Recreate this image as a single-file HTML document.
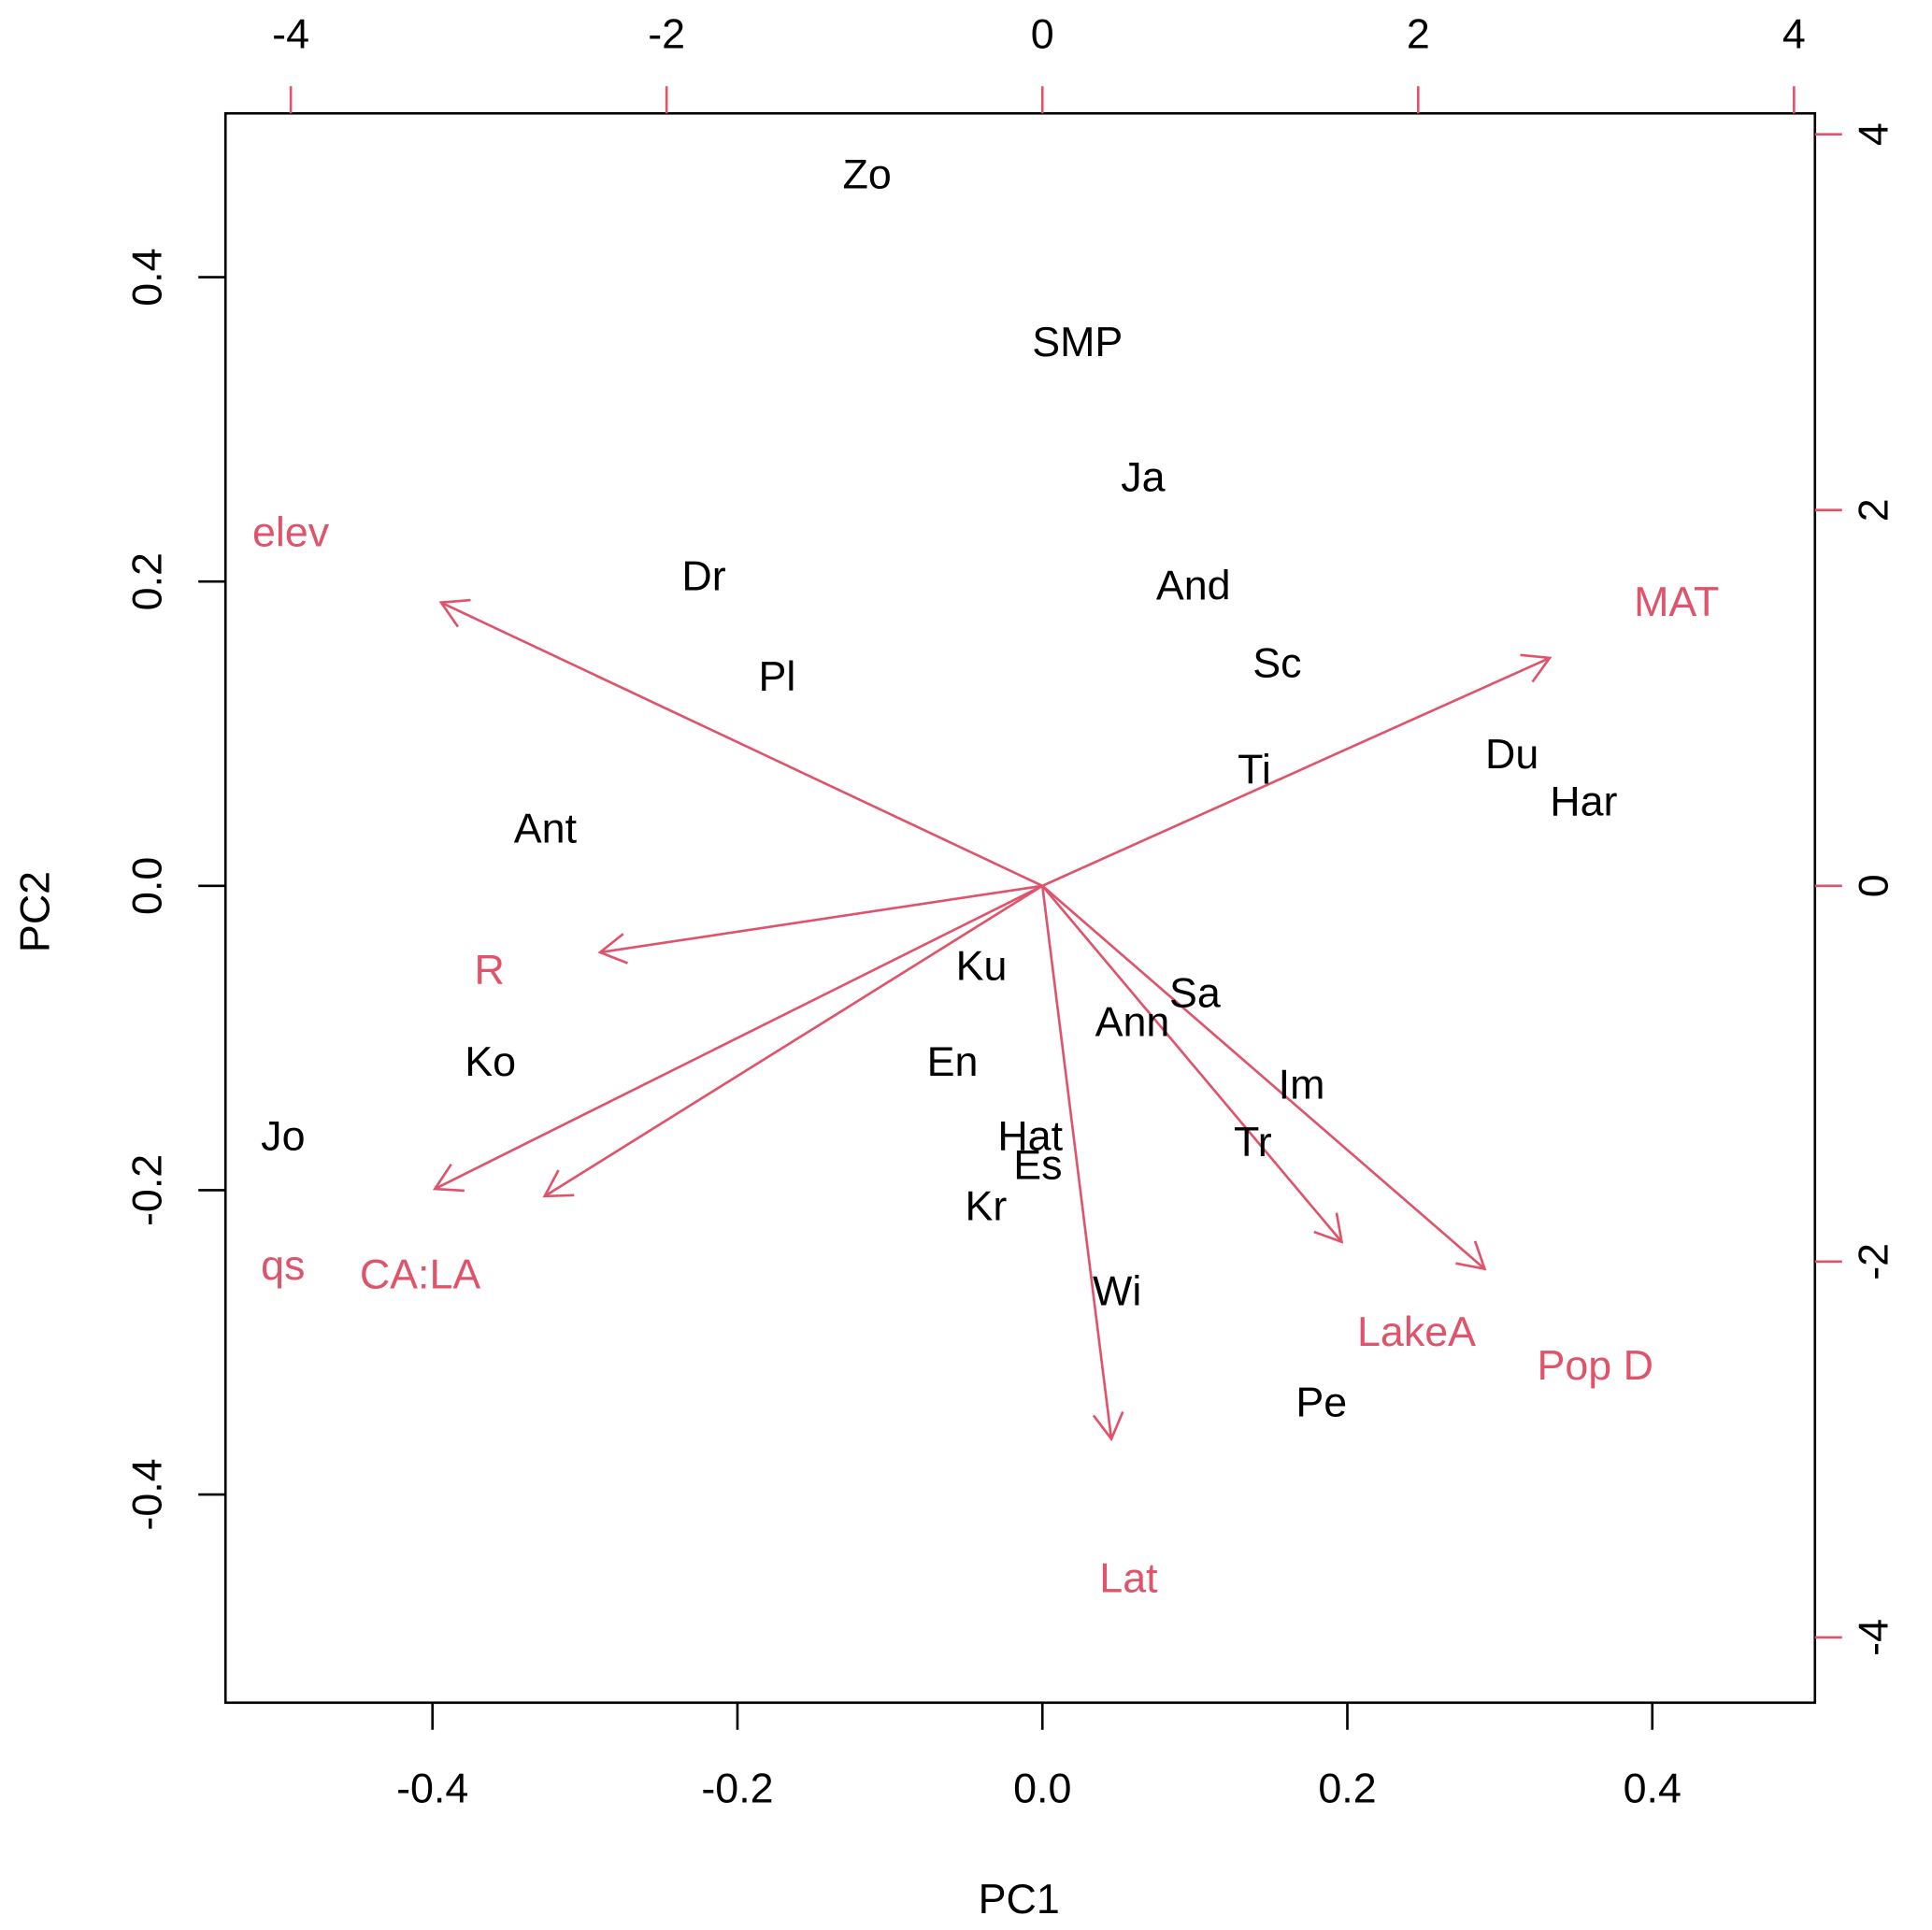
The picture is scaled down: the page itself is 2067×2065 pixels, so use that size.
<!DOCTYPE html>
<html><head><meta charset="utf-8"><style>
html,body{margin:0;padding:0;background:#fff}
svg{display:block}
text{font-family:"Liberation Sans",Arial,sans-serif}
</style></head><body>
<svg id="chart" width="2067" height="2065" viewBox="0 0 1568 1566.5" preserveAspectRatio="none" xmlns="http://www.w3.org/2000/svg">
<rect x="183" y="92" width="1290" height="1290" fill="none" stroke="#000" stroke-width="2"/>
<text x="827" y="1553" font-size="34" text-anchor="middle">PC1</text>
<text transform="translate(40,740) rotate(-90)" font-size="34" text-anchor="middle">PC2</text>
<g id="g-axes"></g><g id="g-arrows"></g><g id="g-points"></g>
</svg>
<script>
const sampleNames=["Zo","SMP","Ja","And","Sc","Ti","Du","Har","Dr","Pl","Ant","Ku","Sa","Ann","Ko","En","Im","Jo","Hat","Tr","Es","Kr","Wi","Pe"];
const sampleX=[-0.115,0.023,0.066,0.099,0.154,0.139,0.308,0.355,-0.222,-0.174,-0.326,-0.040,0.100,0.059,-0.362,-0.059,0.170,-0.498,-0.008,0.138,-0.003,-0.037,0.049,0.183];
const sampleY=[0.468,0.358,0.269,0.198,0.147,0.077,0.087,0.056,0.204,0.138,0.038,-0.052,-0.070,-0.089,-0.115,-0.115,-0.130,-0.164,-0.164,-0.168,-0.183,-0.210,-0.266,-0.339];
const varNames=["elev","MAT","R","qs","CA:LA","Lat","LakeA","Pop D"];
const varX=[-3.20,2.70,-2.354,-3.233,-2.649,0.367,1.593,2.354];
const varY=[1.508,1.213,-0.354,-1.613,-1.652,-2.944,-1.895,-2.039];
const bottomTicks=[-0.4,-0.2,0.0,0.2,0.4];
const leftTicks=[-0.4,-0.2,0.0,0.2,0.4];
const topTicks=[-4,-2,0,2,4];
const rightTicks=[-4,-2,0,2,4];
const RED="#DF536B";
const NS="http://www.w3.org/2000/svg";
const sx=v=>846+v*1237.5, sy=v=>719-v*1235;
const ax=u=>846+u*152.5, ay=u=>719-u*152.5;
function mk(tag,attrs,parent,txt){const e=document.createElementNS(NS,tag);for(const k in attrs)e.setAttribute(k,attrs[k]);if(txt!==undefined)e.textContent=txt;parent.appendChild(e);return e;}
const gA=document.getElementById('g-axes'),gR=document.getElementById('g-arrows'),gP=document.getElementById('g-points');
const fmt=v=>v.toFixed(1);
bottomTicks.forEach(v=>{const x=sx(v);
 let l=mk('line',{x1:x,y1:1382,x2:x,y2:1404,stroke:'#000','stroke-width':2},gA);
 
 let t=mk('text',{x:x,y:1463,'font-size':34,'text-anchor':'middle'},gA,fmt(v));
 });
leftTicks.forEach(v=>{const y=sy(v);
 let l=mk('line',{x1:161,y1:y,x2:183,y2:y,stroke:'#000','stroke-width':2},gA);
 
 let t=mk('text',{transform:`translate(131,${y}) rotate(-90)`,'font-size':34,'text-anchor':'middle'},gA,fmt(v));
 });
topTicks.forEach(u=>{const x=ax(u);
 let l=mk('line',{x1:x,y1:70,x2:x,y2:92,stroke:RED,'stroke-width':2},gA);
 
 let t=mk('text',{x:x,y:39,'font-size':34,'text-anchor':'middle'},gA,String(u));
 });
rightTicks.forEach(u=>{const y=ay(u);
 let l=mk('line',{x1:1473,y1:y,x2:1495,y2:y,stroke:RED,'stroke-width':2},gA);
 
 let t=mk('text',{transform:`translate(1532,${y}) rotate(-90)`,'font-size':34,'text-anchor':'middle'},gA,String(u));
 });
varNames.forEach((n,i)=>{
 const x0=ax(0),y0=ay(0),x1=ax(varX[i]),y1=ay(varY[i]);
 const ang=Math.atan2(y1-y0,x1-x0),h=24,sp=Math.PI/6;
 const d=`M${x0},${y0}L${x1},${y1}M${x1-h*Math.cos(ang-sp)},${y1-h*Math.sin(ang-sp)}L${x1},${y1}L${x1-h*Math.cos(ang+sp)},${y1-h*Math.sin(ang+sp)}`;
 let p=mk('path',{d:d,stroke:RED,'stroke-width':2,fill:'none'},gR);
 
 
 let t=mk('text',{x:ax(varX[i]*1.25),y:ay(varY[i]*1.25)+12,'font-size':34,'text-anchor':'middle',fill:RED},gR,n);
 
 
});
sampleNames.forEach((n,i)=>{
 let t=mk('text',{x:sx(sampleX[i]),y:sy(sampleY[i])+12,'font-size':34,'text-anchor':'middle'},gP,n);
 
 
});
</script>
</body></html>
